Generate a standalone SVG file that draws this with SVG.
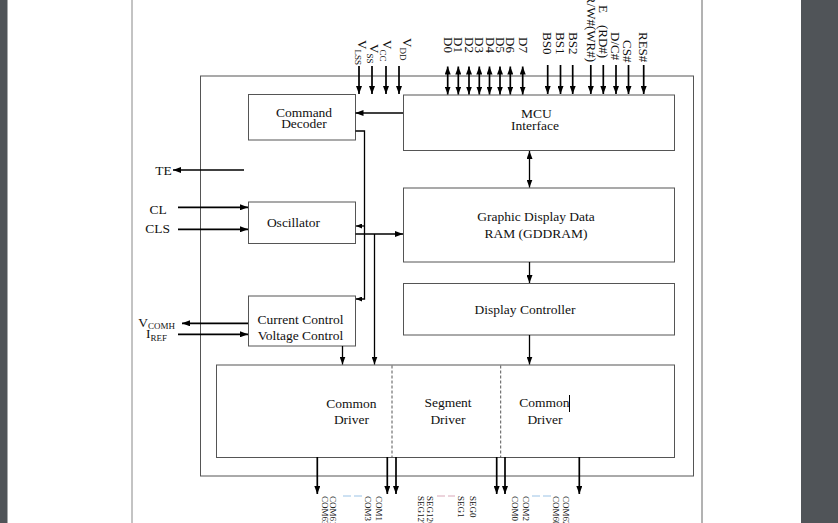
<svg xmlns="http://www.w3.org/2000/svg" width="838" height="523" viewBox="0 0 838 523">
<style>
.bg{fill:#505458}
.box{fill:#fff;stroke:#555;stroke-width:1}
.t{font-family:"Liberation Serif","Times New Roman",serif;font-size:13.5px;fill:#111}
.c{text-anchor:middle}
.pin{font-size:13px}
.bot{font-size:9px}
.w{stroke:#000;stroke-width:1.3;fill:none}
.p{stroke:#000;stroke-width:1.7;fill:none}
.dash{stroke:#555;stroke-width:1;stroke-dasharray:3 2;fill:none}
</style>
<defs>
<marker id="a" viewBox="0 0 8 6" refX="8" refY="3" markerWidth="8" markerHeight="6" markerUnits="userSpaceOnUse" orient="auto-start-reverse"><path d="M0,0 L8,3 L0,6 z" fill="#000"/></marker>
<marker id="s" viewBox="0 0 6 5" refX="6" refY="2.5" markerWidth="6" markerHeight="5" markerUnits="userSpaceOnUse" orient="auto-start-reverse"><path d="M0,0 L6,2.5 L0,5 z" fill="#000"/></marker>
</defs>
<rect x="0" y="0" width="838" height="523" fill="#fff"/>
<rect class="bg" x="0" y="0" width="7.5" height="523"/>
<rect class="bg" x="801" y="0" width="37" height="523"/>
<line x1="132" y1="0" x2="132" y2="523" stroke="#888" stroke-width="1"/>
<line x1="702" y1="0" x2="702" y2="523" stroke="#666" stroke-width="1"/>
<rect class="box" x="200.5" y="76" width="493" height="400"/>

<g id="cmd"><rect class="box" x="248.5" y="94.5" width="107" height="45.5"/>
<text class="t c" x="304" y="116.7">Command</text><text class="t c" x="304" y="128">Decoder</text></g>
<g id="mcu"><rect class="box" x="403.5" y="95" width="271" height="55.5"/>
<text class="t c" x="536.5" y="118.3">MCU</text><text class="t c" x="535" y="129.5">Interface</text></g>
<g id="gddram"><rect class="box" x="403.5" y="188" width="271" height="74"/>
<text class="t c" x="536" y="221">Graphic Display Data</text><text class="t c" x="536" y="237.7">RAM (GDDRAM)</text></g>
<g id="dispctrl"><rect class="box" x="403.5" y="283.5" width="271" height="51.5"/>
<text class="t c" x="525" y="313.5">Display Controller</text></g>
<g id="osc"><rect class="box" x="248.5" y="202" width="107" height="41.5"/>
<text class="t c" x="293.5" y="227.3">Oscillator</text></g>
<g id="curctrl"><rect class="box" x="248.5" y="296" width="107" height="50"/>
<text class="t c" x="300.5" y="324">Current Control</text><text class="t c" x="300.5" y="339.5">Voltage Control</text></g>
<g id="drivers"><rect class="box" x="216.5" y="365" width="458" height="92.5"/>
<line class="dash" x1="392" y1="365.5" x2="392" y2="457"/>
<line class="dash" x1="500.7" y1="365.5" x2="500.7" y2="457"/>
<text class="t c" x="351.5" y="408">Common</text><text class="t c" x="351.5" y="424">Driver</text>
<text class="t c" x="448" y="407">Segment</text><text class="t c" x="448" y="423.5">Driver</text>
<text class="t c" x="544.5" y="407">Common</text><text class="t c" x="545" y="423.5">Driver</text>
<line x1="569.5" y1="395" x2="569.5" y2="412" stroke="#000" stroke-width="1"/></g>

<g id="connectors">
<line class="w" x1="403" y1="113" x2="355.5" y2="113" marker-end="url(#a)"/>
<polyline class="w" points="355.5,131 364.5,131 364.5,299 356,299" marker-end="url(#s)"/>
<line class="w" x1="364.5" y1="226" x2="356" y2="226" marker-end="url(#s)"/>
<line class="w" x1="355.5" y1="234" x2="403" y2="234" marker-end="url(#a)"/>
<line class="w" x1="374.5" y1="234" x2="374.5" y2="364.5" marker-end="url(#a)"/>
<line class="w" x1="342.5" y1="346" x2="342.5" y2="364.5" marker-end="url(#a)"/>
<line class="w" x1="529.5" y1="151" x2="529.5" y2="187.5" marker-start="url(#a)" marker-end="url(#a)"/>
<line class="w" x1="529.5" y1="262" x2="529.5" y2="283" marker-end="url(#a)"/>
<line class="w" x1="529.5" y1="335" x2="529.5" y2="364.5" marker-end="url(#a)"/>
<line class="p" x1="244" y1="170" x2="173" y2="170" marker-end="url(#a)"/>
<line class="p" x1="178" y1="207.3" x2="248" y2="207.3" marker-end="url(#a)"/>
<line class="p" x1="178" y1="229.3" x2="248" y2="229.3" marker-end="url(#a)"/>
<line class="p" x1="248" y1="323.3" x2="182" y2="323.3" marker-end="url(#a)"/>
<line class="p" x1="178" y1="334.3" x2="248" y2="334.3" marker-end="url(#a)"/>
<line class="p" x1="359" y1="66" x2="359" y2="94" marker-end="url(#a)"/>
<line class="p" x1="372" y1="66" x2="372" y2="94" marker-end="url(#a)"/>
<line class="p" x1="386" y1="66" x2="386" y2="94" marker-end="url(#a)"/>
<line class="p" x1="399" y1="66" x2="399" y2="94" marker-end="url(#a)"/>
<line class="p" x1="447.7" y1="66.5" x2="447.7" y2="94.5" marker-start="url(#a)" marker-end="url(#a)"/>
<line class="p" x1="458.3" y1="66.5" x2="458.3" y2="94.5" marker-start="url(#a)" marker-end="url(#a)"/>
<line class="p" x1="469" y1="66.5" x2="469" y2="94.5" marker-start="url(#a)" marker-end="url(#a)"/>
<line class="p" x1="479.3" y1="66.5" x2="479.3" y2="94.5" marker-start="url(#a)" marker-end="url(#a)"/>
<line class="p" x1="489.5" y1="66.5" x2="489.5" y2="94.5" marker-start="url(#a)" marker-end="url(#a)"/>
<line class="p" x1="500" y1="66.5" x2="500" y2="94.5" marker-start="url(#a)" marker-end="url(#a)"/>
<line class="p" x1="510.3" y1="66.5" x2="510.3" y2="94.5" marker-start="url(#a)" marker-end="url(#a)"/>
<line class="p" x1="522.7" y1="66.5" x2="522.7" y2="94.5" marker-start="url(#a)" marker-end="url(#a)"/>
<line class="p" x1="547.7" y1="65" x2="547.7" y2="94" marker-end="url(#a)"/>
<line class="p" x1="560.5" y1="65" x2="560.5" y2="94" marker-end="url(#a)"/>
<line class="p" x1="572.7" y1="65" x2="572.7" y2="94" marker-end="url(#a)"/>
<line class="p" x1="590.8" y1="65" x2="590.8" y2="94" marker-end="url(#a)"/>
<line class="p" x1="603.3" y1="65" x2="603.3" y2="94" marker-end="url(#a)"/>
<line class="p" x1="616" y1="65" x2="616" y2="94" marker-end="url(#a)"/>
<line class="p" x1="628.5" y1="65" x2="628.5" y2="94" marker-end="url(#a)"/>
<line class="p" x1="643.7" y1="65" x2="643.7" y2="94" marker-end="url(#a)"/>
<line class="p" x1="317.3" y1="457" x2="317.3" y2="494" marker-end="url(#a)"/>
<line class="p" x1="387.3" y1="457" x2="387.3" y2="494" marker-end="url(#a)"/>
<line class="p" x1="396" y1="457" x2="396" y2="494" marker-end="url(#a)"/>
<line class="p" x1="496.7" y1="457" x2="496.7" y2="494" marker-end="url(#a)"/>
<line class="p" x1="505" y1="457" x2="505" y2="494" marker-end="url(#a)"/>
<line class="p" x1="579.3" y1="457" x2="579.3" y2="494" marker-end="url(#a)"/>
</g>

<g id="left-labels">
<text class="t" x="171.7" y="175" text-anchor="end">TE</text>
<text class="t" x="166.7" y="214" text-anchor="end">CL</text>
<text class="t" x="170" y="232.7" text-anchor="end">CLS</text>
<text class="t" x="138.3" y="326.7">V<tspan dy="2" font-size="9">COMH</tspan></text>
<text class="t" x="146" y="337.7">I<tspan dy="3" font-size="9">REF</tspan></text>
</g>

<g id="top-labels" class="t pin">
<text transform="translate(357.7,40) rotate(90)">V<tspan dy="3" font-size="9">LSS</tspan></text>
<text transform="translate(370,44) rotate(90)">V<tspan dy="3" font-size="9">SS</tspan></text>
<text transform="translate(383,40) rotate(90)">V<tspan dy="3" font-size="9">CC</tspan></text>
<text transform="translate(402.7,38) rotate(90)">V<tspan dy="3" font-size="9">DD</tspan></text>
<text transform="translate(444,37) rotate(90)">D0</text>
<text transform="translate(454.3,37) rotate(90)">D1</text>
<text transform="translate(465,37) rotate(90)">D2</text>
<text transform="translate(475.3,37) rotate(90)">D3</text>
<text transform="translate(485.5,37) rotate(90)">D4</text>
<text transform="translate(496,37) rotate(90)">D5</text>
<text transform="translate(506.3,37) rotate(90)">D6</text>
<text transform="translate(518.7,37) rotate(90)">D7</text>
<text transform="translate(543.3,32) rotate(90)">BS0</text>
<text transform="translate(556,32) rotate(90)">BS1</text>
<text transform="translate(568.5,32) rotate(90)">BS2</text>
<text transform="translate(586.5,62) rotate(90)" text-anchor="end">R/W#(WR#)</text>
<text transform="translate(599,5) rotate(90)">E<tspan dx="12">(RD#)</tspan></text>
<text transform="translate(611,32) rotate(90)">D/C#</text>
<text transform="translate(622.5,40) rotate(90)">CS#</text>
<text transform="translate(639,32) rotate(90)">RES#</text>
</g>

<g id="bottom-labels" class="t bot">
<text transform="translate(321.5,496) rotate(90)">COM63</text>
<text transform="translate(329.5,496) rotate(90)">COM61</text>
<text transform="translate(365,496) rotate(90)">COM3</text>
<text transform="translate(375.5,496) rotate(90)">COM1</text>
<text transform="translate(418.3,496) rotate(90)">SEG127</text>
<text transform="translate(427,496) rotate(90)">SEG126</text>
<text transform="translate(458.3,496) rotate(90)">SEG1</text>
<text transform="translate(470,496) rotate(90)">SEG0</text>
<text transform="translate(511.7,496) rotate(90)">COM0</text>
<text transform="translate(522.7,496) rotate(90)">COM2</text>
<text transform="translate(553,496) rotate(90)">COM60</text>
<text transform="translate(563,496) rotate(90)">COM62</text>
<line x1="343" y1="496" x2="362" y2="496" stroke="#9bc3e6" stroke-width="1" stroke-dasharray="8 3"/>
<line x1="437" y1="496" x2="455" y2="496" stroke="#d9a8b8" stroke-width="1" stroke-dasharray="8 3"/>
<line x1="532" y1="496" x2="552" y2="496" stroke="#9bc3e6" stroke-width="1" stroke-dasharray="8 3"/>
</g>
</svg>
